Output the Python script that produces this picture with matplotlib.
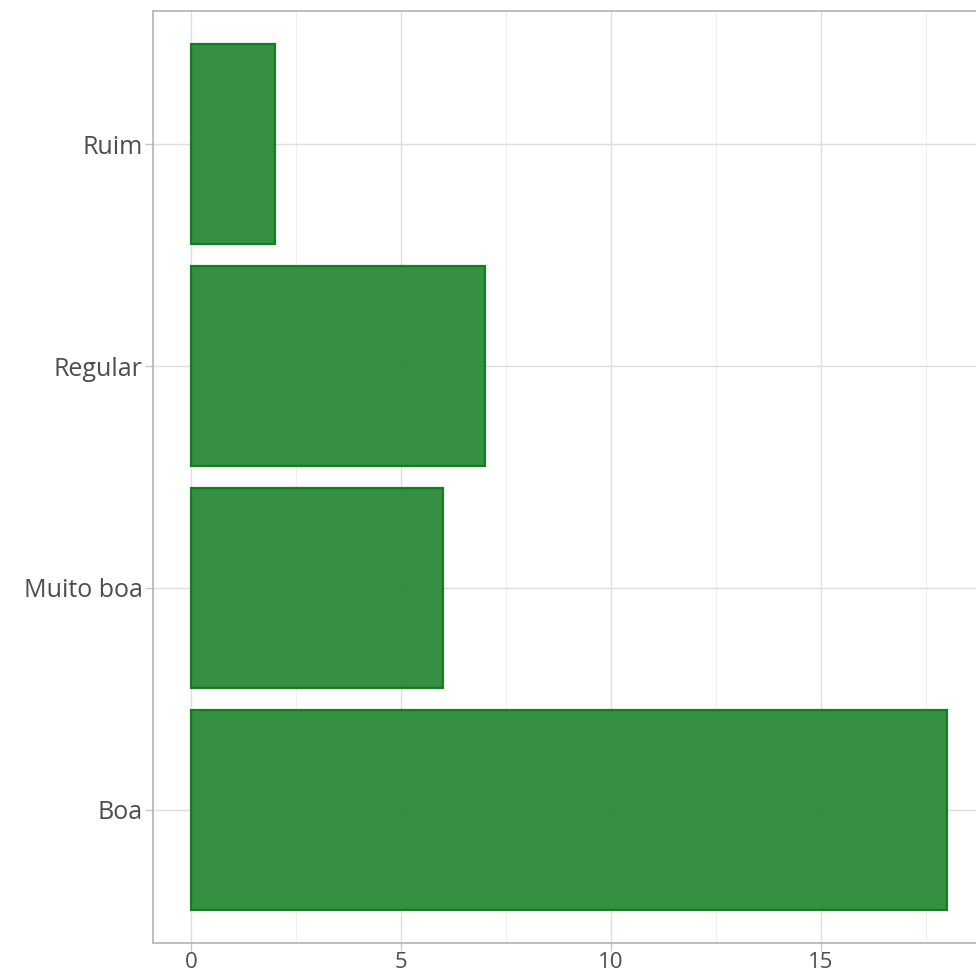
import matplotlib.pyplot as plt
from matplotlib.ticker import MultipleLocator

# dados
categorias = ['Boa', 'Muito boa', 'Regular', 'Ruim']
contagens = [18, 6, 7, 2]

plt.rcParams['font.family'] = ['Open Sans', 'DejaVu Sans']

fig = plt.figure(figsize=(9.76, 9.75), dpi=100)
W, H = 976, 975
ax = fig.add_axes([153 / W, 32 / H, (985 - 153) / W, (943 - 11) / H])

pos = list(range(1, len(categorias) + 1))
ax.barh(pos, contagens, height=0.9, color='#2a8a37', alpha=0.95,
        edgecolor='#0d7a1c', linewidth=1.6, zorder=3)

ax.set_xlim(-0.9, 18.9)
ax.set_ylim(0.4, 4.6)
ax.set_yticks(pos)
ax.set_yticklabels(categorias)
ax.xaxis.set_major_locator(MultipleLocator(5))
ax.xaxis.set_minor_locator(MultipleLocator(2.5))

ax.grid(True, which='major', color='#dedede', linewidth=1.0, zorder=0)
ax.grid(True, which='minor', axis='x', color='#efefef', linewidth=0.8, zorder=0)
ax.tick_params(which='minor', length=0)
ax.tick_params(which='major', length=6, color='#c8c8c8', width=1,
               labelcolor='#4d4d4d')
ax.tick_params(axis='y', labelsize=18, pad=1.5)
ax.tick_params(axis='x', labelsize=16, pad=0.5)

for s in ax.spines.values():
    s.set_color('#b3b3b3')
    s.set_linewidth(1.2)

fig.savefig('out.png', dpi=100)
